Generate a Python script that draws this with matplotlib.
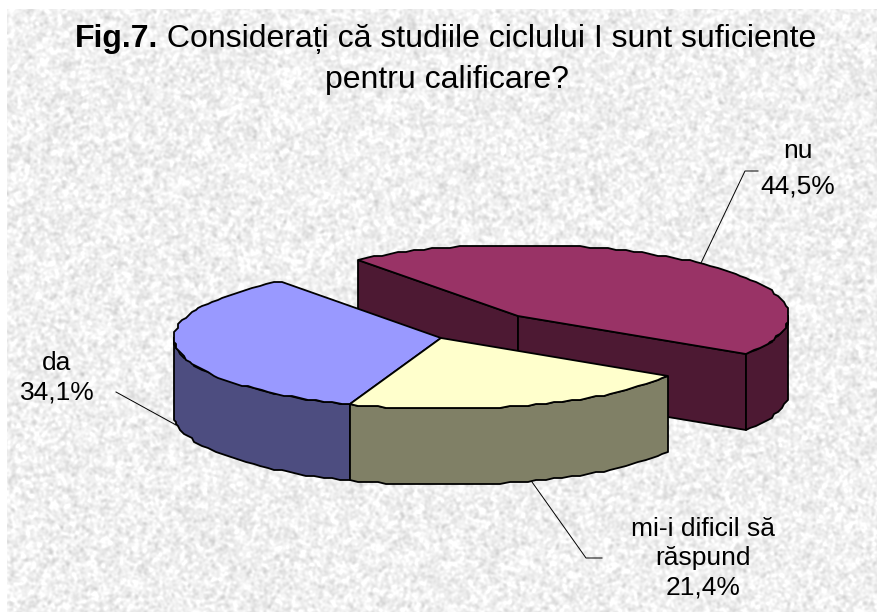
import numpy as np
import matplotlib
matplotlib.use('Agg')
import matplotlib.pyplot as plt
from matplotlib.patches import Polygon

# chart values
labels = ['da', 'mi-i dificil să\nrăspund', 'nu']
shares = [34.1, 21.4, 44.5]
share_text = ['34,1%', '21,4%', '44,5%']
top_colors = ['#9999FF', '#FFFFCC', '#993366']
side_colors = ['#4D4D80', '#808066', '#4D1933']

W, H = 877, 612
CX, CY = 443, 338      # pie centre, px
RX, RY = 269, 71
DEPTH = 76
START = 127            # first slice starts here, degrees
EXPLODE = (77, -22)    # offset of the "nu" slice

plt.rcParams['font.family'] = ['Liberation Sans', 'DejaVu Sans']


def texture():
    # mottled paper background, only decoration
    rng = np.random.default_rng(7)
    noise = rng.normal(size=(H, W))
    fy = np.fft.fftfreq(H)[:, None]
    fx = np.fft.fftfreq(W)[None, :]
    soft = np.fft.ifft2(np.fft.fft2(noise) * np.exp(-(fx**2 + fy**2) * 2 * (np.pi * 1.3)**2)).real
    soft = soft / soft.std()
    img = np.clip(240 + 9 * soft, 200, 255)
    img[:9, :] = 255
    img[:, :7] = 255
    return img


def arc(t0, t1, cx, cy):
    n = max(int(abs(t1 - t0) / 2), 1) + 1
    t = np.radians(np.linspace(t0, t1, n))
    x = cx + RX * np.cos(t)
    y = cy - RY * np.sin(t)
    # the original outline is slightly stepped
    return np.column_stack([np.round(x / 2) * 2, np.round(y / 2) * 2])


def wall(ax, pts, color, z):
    low = pts[::-1] + [0, DEPTH]
    ax.add_patch(Polygon(np.vstack([pts, low]), closed=True, fc=color, ec='black', lw=1.3, zorder=z, joinstyle='round'))


fig = plt.figure(figsize=(W / 100, H / 100), dpi=100)
ax = fig.add_axes([0, 0, 1, 1])
ax.imshow(texture(), cmap='gray', vmin=0, vmax=255, extent=(0, W, H, 0), interpolation='bilinear', zorder=0)
ax.set_xlim(0, W)
ax.set_ylim(H, 0)
ax.axis('off')

# slice angles from the values, going counter-clockwise
spans = [s / sum(shares) * 360 for s in shares]
t0_da = START
t1_da = t0_da + spans[0]
t1_mi = t1_da + spans[1]
t1_nu = t1_mi + spans[2]

# exploded slice goes first, it sits behind the others
nx, ny = CX + EXPLODE[0], CY + EXPLODE[1]
nu_arc = arc(t1_mi, t1_nu, nx, ny)
apex = np.array([[nx - 2, ny]])
wall(ax, np.vstack([nu_arc[-1:], apex]), side_colors[2], 2)
wall(ax, np.vstack([apex, nu_arc[:1]]), side_colors[2], 2)
wall(ax, arc(t1_mi, 360, nx, ny), side_colors[2], 2)
ax.add_patch(Polygon(np.vstack([apex, nu_arc]), closed=True, fc=top_colors[2], ec='black', lw=1.3, zorder=3))

# the two slices in front
wall(ax, arc(180, t1_da, CX, CY), side_colors[0], 4)
wall(ax, arc(t1_da, t1_mi, CX, CY), side_colors[1], 4)
centre = np.array([[CX - 2, CY]])
ax.add_patch(Polygon(np.vstack([centre, arc(t0_da, t1_da, CX, CY)]), closed=True, fc=top_colors[0], ec='black', lw=1.3, zorder=5))
ax.add_patch(Polygon(np.vstack([centre, arc(t1_da, t1_mi, CX, CY)]), closed=True, fc=top_colors[1], ec='black', lw=1.3, zorder=5))

# leader lines
ax.plot([116, 176], [392, 425], color='black', lw=0.7, zorder=1)
ax.plot([532, 586, 602], [482, 558, 558], color='black', lw=0.7, zorder=1)
ax.plot([701, 745, 758], [263, 171, 171], color='black', lw=0.7, zorder=1)

# data labels
ax.text(57, 378, labels[0] + '\n' + share_text[0], ha='center', va='center', fontsize=19, linespacing=1.27, zorder=6)
ax.text(703, 558, labels[1] + '\n' + share_text[1], ha='center', va='center', fontsize=19, linespacing=1.27, zorder=6)
ax.text(798, 169, labels[2] + '\n' + share_text[2], ha='center', va='center', fontsize=19, linespacing=1.6, zorder=6)

# title, bold prefix on first line
bold = ax.text(75, 39, 'Fig.7.', ha='left', va='center', fontsize=23, fontweight='bold', zorder=6)
ax.annotate(' Considerați că studiile ciclului I sunt suficiente', xy=(1, 0), xycoords=bold,
            va='bottom', ha='left', fontsize=23, zorder=6)
ax.text(447, 80, 'pentru calificare?', ha='center', va='center', fontsize=23, zorder=6)

fig.savefig('out.png', dpi=100)
